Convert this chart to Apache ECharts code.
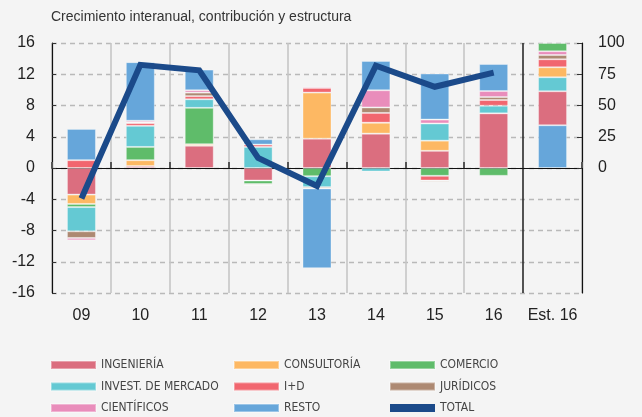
<!DOCTYPE html>
<html lang="es">
<head>
<meta charset="UTF-8">
<title>Crecimiento interanual</title>
<style>
    html, body { margin: 0; background: #f4f4f4; }
    #main { width: 642px; height: 417px; }
</style>
</head>
<body>
<div id="main"></div>
<script src="https://cdn.jsdelivr.net/npm/echarts@6/dist/echarts.min.js"></script>
<script>
    // categorias
    var years = ['09', '10', '11', '12', '13', '14', '15', '16'];
    var estLabel = 'Est. 16';

    // contribucion al crecimiento (puntos)
    var ingenieria    = [-3.4, 0.25, 2.85, -1.6, 3.75, 4.4, 2.2, 7.0];
    var consultoria   = [-1.2, 0.75, 0.2, 0, 5.9, 1.4, 1.3, 0];
    var comercio      = [-0.4, 1.7, 4.65, -0.45, -1.05, 0, -1.0, -1.0];
    var investMercado = [-3.1, 2.7, 1.1, 2.7, -1.4, -0.45, 2.2, 0.97];
    var imasd         = [1.0, 0.35, 0.4, 0.3, 0.6, 1.25, -0.6, 0.73];
    var juridicos     = [-0.85, 0.1, 0.45, -0.15, -0.17, 0.7, -0.15, 0.38];
    var cientificos   = [-0.3, 0.2, 0.3, -0.12, 0.17, 2.2, 0.5, 0.77];
    var resto         = [4.0, 7.5, 2.65, 0.68, -10.2, 3.75, 5.9, 3.46];
    var total         = [-3.9, 13.2, 12.5, 1.3, -2.3, 13.1, 10.4, 12.2];

    // estructura 2016 (%), en el orden de los sectores
    var estructura16 = [27.2, 8.0, 6.6, 11.2, 6.4, 3.4, 3.0, 34.2];
    var ordenEstructura = [7, 0, 3, 1, 4, 5, 6, 2]; // de abajo a arriba

    // ejes
    var leftTicks = {min: -16, max: 16, interval: 4};
    var rightTickValues = [0, 25, 50, 75, 100];

    var sectores = ['INGENIERÍA', 'CONSULTORÍA', 'COMERCIO', 'INVEST. DE MERCADO',
        'I+D', 'JURÍDICOS', 'CIENTÍFICOS', 'RESTO'];
    var colores = ['#db6e7f', '#fdb863', '#5fbc6a', '#64c9d3',
        '#f1666f', '#ad8972', '#e98dbb', '#66a6da'];
    var contribuciones = [ingenieria, consultoria, comercio, investMercado,
        imasd, juridicos, cientificos, resto];

    var categories = years.concat([estLabel]);
    var series = [];

    contribuciones.forEach(function (vals, i) {
        series.push({
            name: sectores[i],
            type: 'bar',
            stack: 'crec',
            barWidth: 29,
            barGap: '-100%',
            itemStyle: {color: colores[i], borderColor: 'rgba(255,255,255,0.35)', borderWidth: 1},
            data: vals.concat(['-'])
        });
    });

    ordenEstructura.forEach(function (k) {
        var d = years.map(function () { return '-'; });
        d.push(estructura16[k]);
        series.push({
            name: sectores[k],
            type: 'bar',
            stack: 'estr',
            yAxisIndex: 1,
            barWidth: 29,
            barGap: '-100%',
            itemStyle: {color: colores[k], borderColor: 'rgba(255,255,255,0.35)', borderWidth: 1},
            data: d
        });
    });

    series.push({
        name: 'TOTAL',
        type: 'line',
        z: 5,
        symbol: 'none',
        lineStyle: {color: '#1b4a8a', width: 6, join: 'miter'},
        itemStyle: {color: '#1b4a8a'},
        data: total.concat(['-'])
    });

    var splitColors = [];
    for (var i = 0; i <= categories.length; i++) {
        splitColors.push(i === years.length ? '#2a2a2a' : '#c6c6c6');
    }

    var legendText = {color: '#444', fontSize: 12, fontFamily: 'DejaVu Sans Condensed, sans-serif', lineHeight: 14};
    function legendCol(left, names) {
        return {
            orient: 'vertical',
            left: left,
            top: 358,
            icon: 'rect',
            itemWidth: 45,
            itemHeight: 8,
            itemGap: 7.5,
            padding: 0,
            textStyle: legendText,
            data: names
        };
    }

    var myChart = echarts.init(document.getElementById('main'));
    var option = {
        backgroundColor: '#f4f4f4',
        textStyle: {fontFamily: 'Liberation Sans, Arial, sans-serif'},
        title: {
            text: 'Crecimiento interanual, contribución y estructura',
            left: 51,
            top: 10,
            padding: 0,
            textStyle: {fontSize: 14, fontWeight: 'normal', color: '#333'}
        },
        legend: [
            legendCol(50, ['INGENIERÍA', 'INVEST. DE MERCADO', 'CIENTÍFICOS']),
            legendCol(233, ['CONSULTORÍA', 'I+D', 'RESTO']),
            legendCol(389, ['COMERCIO', 'JURÍDICOS', 'TOTAL'])
        ],
        grid: {left: 52, right: 60, top: 43, bottom: 124},
        xAxis: [{
            type: 'category',
            data: categories,
            axisLine: {show: false, onZero: false},
            axisTick: {show: false},
            axisLabel: {interval: 0, fontSize: 16, color: '#222', margin: 15},
            splitLine: {show: true, interval: 0, lineStyle: {color: splitColors, width: 1.6}}
        }, {
            type: 'category',
            data: categories,
            axisLine: {onZero: true, lineStyle: {color: '#111', width: 1.2}},
            axisTick: {show: true, interval: 0, length: 6, lineStyle: {color: '#555', width: 2}},
            axisLabel: {show: false},
            splitLine: {show: false}
        }],
        yAxis: [{
            type: 'value',
            min: leftTicks.min,
            max: leftTicks.max,
            interval: leftTicks.interval,
            axisLine: {show: true, lineStyle: {color: '#111', width: 1.2}},
            axisTick: {show: true, inside: true, length: 4, lineStyle: {color: '#333'}},
            axisLabel: {fontSize: 16, color: '#222', margin: 17},
            splitLine: {show: true, lineStyle: {color: '#b9b9b9', type: [5, 4], width: 1.4}}
        }, {
            type: 'value',
            min: -100,
            max: 100,
            interval: 25,
            axisLine: {show: true, lineStyle: {color: '#111', width: 1.2}},
            axisTick: {show: true, inside: true, length: 5, customValues: rightTickValues, lineStyle: {color: '#333'}},
            axisLabel: {fontSize: 16, color: '#222', margin: 16, customValues: rightTickValues},
            splitLine: {show: false}
        }],
        series: series
    };
    myChart.setOption(option);
</script>
</body>
</html>
